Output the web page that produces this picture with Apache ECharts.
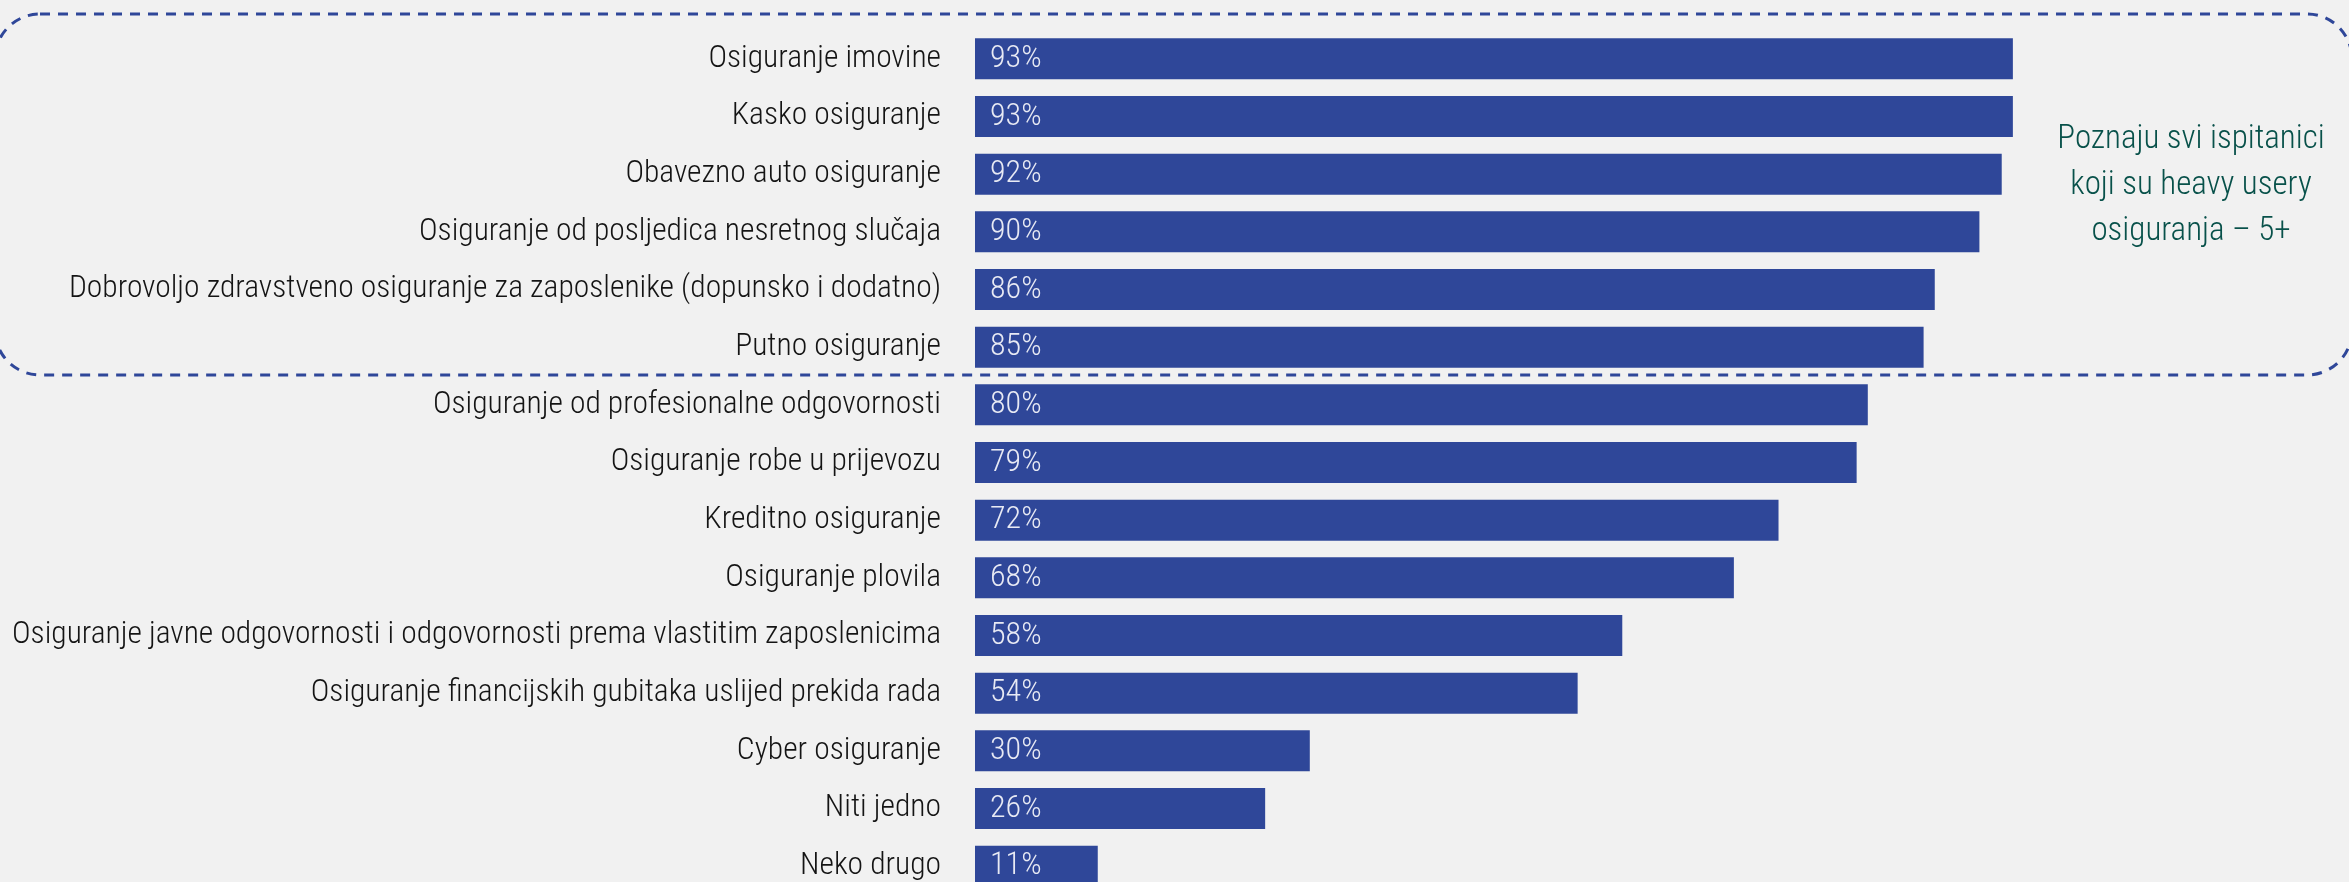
<!DOCTYPE html>
<html>
<head>
<meta charset="utf-8">
<script src="https://cdn.jsdelivr.net/npm/echarts@6/dist/echarts.min.js"></script>
<style>
  html, body { margin: 0; padding: 0; background: #f1f1f1; }
  #chart { width: 2349px; height: 882px; }
</style>
</head>
<body>
<div id="chart"></div>
<script>
// kategorije i postoci (redoslijed odozgo prema dolje)
const categories = [
  'Osiguranje imovine',
  'Kasko osiguranje',
  'Obavezno auto osiguranje',
  'Osiguranje od posljedica nesretnog slučaja',
  'Dobrovoljo zdravstveno osiguranje za zaposlenike (dopunsko i dodatno)',
  'Putno osiguranje',
  'Osiguranje od profesionalne odgovornosti',
  'Osiguranje robe u prijevozu',
  'Kreditno osiguranje',
  'Osiguranje plovila',
  'Osiguranje javne odgovornosti i odgovornosti prema vlastitim zaposlenicima',
  'Osiguranje financijskih gubitaka uslijed prekida rada',
  'Cyber osiguranje',
  'Niti jedno',
  'Neko drugo'
]
const values = [93, 93, 92, 90, 86, 85, 80, 79, 72, 68, 58, 54, 30, 26, 11]
const noteLines = ['Poznaju svi ispitanici', 'koji su heavy usery', 'osiguranja – 5+']

const font = '"Liberation Sans Narrow", "Arial Narrow", "Roboto Condensed", sans-serif'

let chart = echarts.init(document.getElementById('chart'), null, { renderer: 'canvas' })
var option = {
  backgroundColor: '#f1f1f1',
  animation: false,
  grid: {
    left: 975,
    top: 30,
    width: 1116,
    height: 865,
    // bez ovoga v6 pomiče grid da bi stale oznake
    outerBoundsMode: 'none',
    containLabel: false
  },
  xAxis: {
    type: 'value',
    min: 0,
    max: 100,
    show: false
  },
  yAxis: {
    type: 'category',
    data: categories,
    inverse: true,
    axisLine: { show: false },
    axisTick: { show: false },
    axisLabel: {
      fontSize: 31.5,
      fontFamily: font,
      fontWeight: 300,
      color: '#141414',
      margin: 34
    }
  },
  series: [
    {
      type: 'bar',
      data: values,
      barWidth: 41,
      itemStyle: { color: '#2F4799' },
      label: {
        show: true,
        position: 'insideLeft',
        distance: 15,
        formatter: '{c}%',
        fontSize: 32,
        fontFamily: font,
        fontWeight: 300,
        color: '#e8eaf4'
      }
    }
  ],
  graphic: [
    // isprekidani okvir oko prvih šest stavki
    {
      type: 'rect',
      shape: { x: -5, y: 14, width: 2357, height: 361, r: 45 },
      style: { fill: null, stroke: '#2F4799', lineWidth: 3, lineDash: [10, 8] },
      z: 10
    },
    {
      type: 'text',
      x: 2191,
      y: 117,
      style: {
        text: noteLines.join('\n'),
        fontSize: 33,
        fontFamily: font,
        fontWeight: 300,
        fill: '#08514a',
        align: 'center',
        lineHeight: 46
      },
      z: 10
    }
  ]
}
chart.setOption(option)
</script>
</body>
</html>
